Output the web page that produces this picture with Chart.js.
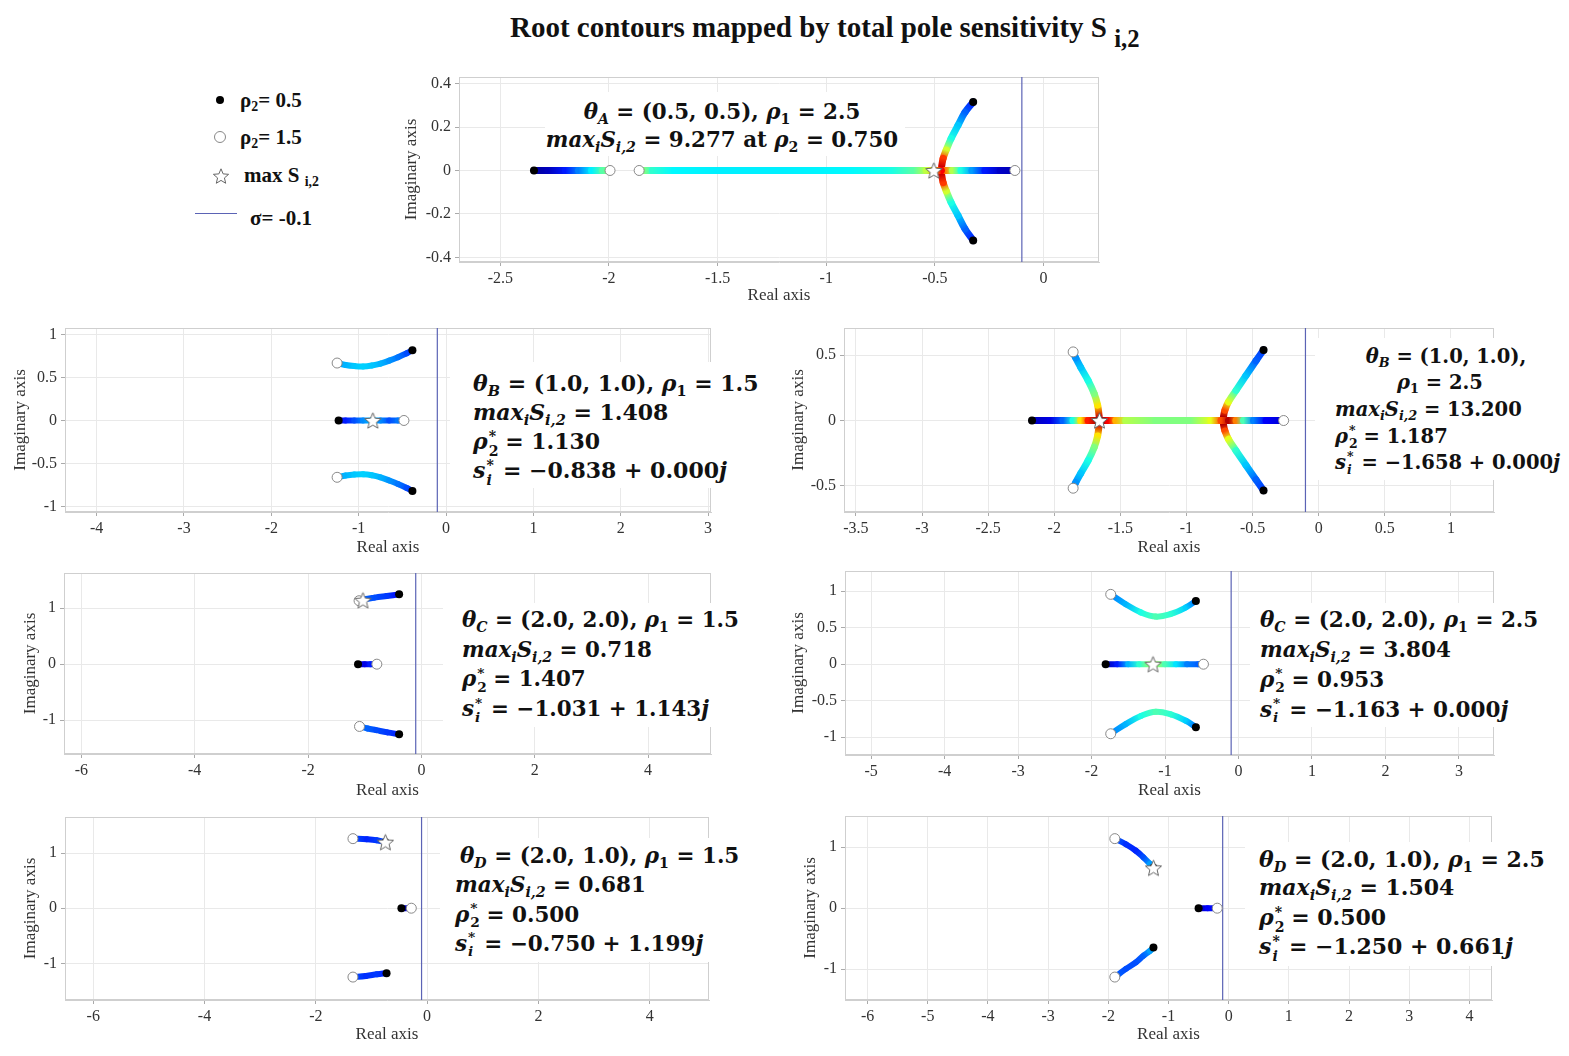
<!DOCTYPE html>
<html>
<head>
<meta charset="utf-8">
<script src="https://cdn.jsdelivr.net/npm/chart.js@4.4.1/dist/chart.umd.min.js"></script>
<style>
  body { margin: 0; background: #fff; width: 1569px; height: 1056px; position: relative; overflow: hidden; font-family: "Liberation Serif", serif; }
  canvas.p { position: absolute; }
  .t { position: absolute; white-space: nowrap; font-family: "DejaVu Serif", serif; font-weight: bold; line-height: 28px; height: 28px; color: #111; }
  .c { transform: translateX(-50%); }
  .bg { position: absolute; background: #fff; }
  i { font-style: italic; }
  sub { font-size: .66em; vertical-align: -.32em; line-height: 0; }
  .ss { display: inline-block; position: relative; width: .45em; height: 1em; }
  .ss span { position: absolute; left: 1px; font-size: .64em; line-height: 1; }
  .ss .u { top: 10%; }
  .ss .d { top: 76%; }
  .lg { position: absolute; font-weight: bold; font-size: 21px; line-height: 24px; color: #111; white-space: nowrap; }
  #title { position: absolute; left: 510px; top: 11px; font-weight: bold; font-size: 29px; color: #111; white-space: nowrap; }
</style>
</head>
<body>
<div id="title">Root contours mapped by total pole sensitivity S <sub style="font-size:.85em;vertical-align:-.42em">i,2</sub></div>

<!-- legend -->
<div style="position:absolute;left:216px;top:96px;width:8px;height:8px;border-radius:50%;background:#000"></div>
<div class="lg" style="left:240px;top:88px">ρ<sub>2</sub>= 0.5</div>
<div style="position:absolute;left:214px;top:131px;width:10px;height:10px;border-radius:50%;border:1px solid #888;background:#fff"></div>
<div class="lg" style="left:240px;top:125px">ρ<sub>2</sub>= 1.5</div>
<div id="lgstar" style="position:absolute;left:211px;top:166px"></div>
<div class="lg" style="left:244px;top:163px">max S <sub>i,2</sub></div>
<div style="position:absolute;left:195px;top:213px;width:42px;height:1px;background:#5b63b5"></div>
<div class="lg" style="left:250px;top:206px">σ= -0.1</div>

<script>
// ---- tick labels ----
const aXTicks = [-2.5, -2, -1.5, -1, -0.5, 0];
const aYTicks = [-0.4, -0.2, 0, 0.2, 0.4];
const b1XTicks = [-4, -3, -2, -1, 0, 1, 2, 3];
const b1YTicks = [-1, -0.5, 0, 0.5, 1];
const b2XTicks = [-3.5, -3, -2.5, -2, -1.5, -1, -0.5, 0, 0.5, 1];
const b2YTicks = [-0.5, 0, 0.5];
const c1XTicks = [-6, -4, -2, 0, 2, 4];
const c1YTicks = [-1, 0, 1];
const c2XTicks = [-5, -4, -3, -2, -1, 0, 1, 2, 3];
const c2YTicks = [-1, -0.5, 0, 0.5, 1];
const d1XTicks = [-6, -4, -2, 0, 2, 4];
const d1YTicks = [-1, 0, 1];
const d2XTicks = [-6, -5, -4, -3, -2, -1, 0, 1, 2, 3, 4];
const d2YTicks = [-1, 0, 1];

// ---- contours: [real, imag, sensitivity level 0..1] ----
const aLeft = [[-2.345,0,0.03],[-2.28,0,0.06],[-2.2,0,0.15],[-2.14,0,0.25],[-2.08,0,0.36],[-2.03,0,0.46],[-1.995,0,0.52]];
const aMid = [[-1.861,0,0.55],[-1.8,0,0.42],[-1.7,0,0.37],[-1.5,0,0.36],[-1.2,0,0.36],[-0.9,0,0.37],[-0.7,0,0.4],[-0.6,0,0.46],[-0.54,0,0.56],[-0.5,0,0.7],[-0.47,0,0.88]];
const aRight = [[-0.47,0,0.9],[-0.45,0,0.75],[-0.42,0,0.55],[-0.38,0,0.4],[-0.33,0,0.28],[-0.27,0,0.15],[-0.2,0,0.07],[-0.132,0,0.05]];
const aUp = [[-0.324,0.315,0.15],[-0.362,0.267,0.22],[-0.394,0.207,0.32],[-0.426,0.146,0.4],[-0.448,0.094,0.58],[-0.462,0.056,0.82],[-0.469,0.02,0.92]];
const aDown = [[-0.324,-0.322,0.15],[-0.362,-0.268,0.22],[-0.394,-0.207,0.32],[-0.426,-0.146,0.4],[-0.448,-0.094,0.58],[-0.462,-0.056,0.82],[-0.469,-0.02,0.92]];
const aDots = [[-2.345,0],[-0.324,0.315],[-0.324,-0.322]];
const aCircles = [[-1.995,0],[-1.861,0],[-0.132,0]];
const aStar = [-0.505, 0];

const b1Up = [[-1.247,0.667,0.28],[-1.15,0.645,0.3],[-1.05,0.632,0.32],[-0.95,0.627,0.33],[-0.85,0.638,0.32],[-0.75,0.66,0.3],[-0.65,0.695,0.27],[-0.55,0.735,0.24],[-0.45,0.78,0.2],[-0.385,0.815,0.16]];
const b1Real = [[-1.23,0,0.08],[-1.15,0,0.15],[-1.05,0,0.2],[-0.95,0,0.26],[-0.84,0,0.32],[-0.75,0,0.26],[-0.65,0,0.2],[-0.55,0,0.24],[-0.482,0,0.3]];
const b1Down = [[-1.247,-0.66,0.28],[-1.15,-0.64,0.3],[-1.05,-0.628,0.32],[-0.95,-0.625,0.33],[-0.85,-0.636,0.32],[-0.75,-0.66,0.3],[-0.65,-0.697,0.27],[-0.55,-0.738,0.24],[-0.45,-0.784,0.2],[-0.385,-0.819,0.16]];
const b1Dots = [[-1.23,0],[-0.385,0.815],[-0.385,-0.819]];
const b1Circles = [[-1.247,0.667],[-1.247,-0.66],[-0.482,0]];
const b1Star = [-0.838, 0];

const b2Real = [[-2.168,0,0.06],[-2.028,0,0.1],[-1.933,0,0.22],[-1.858,0,0.4],[-1.8,0,0.65],[-1.744,0,0.85],[-1.657,0,1.0],[-1.592,0,0.88],[-1.535,0,0.7],[-1.46,0,0.55],[-1.232,0,0.5],[-0.967,0,0.5],[-0.815,0,0.6],[-0.739,0,0.8],[-0.682,0,0.95],[-0.625,0,0.75],[-0.569,0,0.45],[-0.493,0,0.25],[-0.398,0,0.12],[-0.265,0,0.08]];
const b2LeftUp = [[-1.66,0.03,0.92],[-1.672,0.118,0.65],[-1.698,0.206,0.5],[-1.744,0.307,0.4],[-1.8,0.407,0.32],[-1.838,0.48,0.27],[-1.857,0.525,0.25]];
const b2LeftDown = [[-1.66,-0.03,0.92],[-1.672,-0.118,0.65],[-1.698,-0.206,0.5],[-1.744,-0.307,0.4],[-1.8,-0.405,0.32],[-1.838,-0.475,0.27],[-1.857,-0.518,0.25]];
const b2RightUp = [[-0.72,0.03,0.95],[-0.709,0.08,0.8],[-0.682,0.143,0.6],[-0.625,0.231,0.42],[-0.55,0.344,0.32],[-0.474,0.457,0.22],[-0.417,0.54,0.18]];
const b2RightDown = [[-0.72,-0.03,0.95],[-0.709,-0.08,0.8],[-0.682,-0.143,0.6],[-0.625,-0.231,0.42],[-0.55,-0.342,0.32],[-0.474,-0.453,0.22],[-0.417,-0.535,0.18]];
const b2Dots = [[-2.168,0],[-0.417,0.54],[-0.417,-0.535]];
const b2Circles = [[-1.857,0.525],[-1.857,-0.518],[-0.265,0]];
const b2Star = [-1.658, 0];

const c1Up = [[-0.393,1.249,0.12],[-0.611,1.22,0.18],[-0.83,1.19,0.2],[-1.004,1.161,0.22],[-1.09,1.135,0.2]];
const c1Real = [[-1.118,0,0.06],[-1.0,0,0.1],[-0.9,0,0.15],[-0.786,0,0.2]];
const c1Down = [[-1.092,-1.114,0.25],[-0.95,-1.15,0.22],[-0.8,-1.18,0.2],[-0.6,-1.22,0.18],[-0.393,-1.255,0.15]];
const c1Dots = [[-0.393,1.249],[-1.118,0],[-0.393,-1.255]];
const c1Circles = [[-1.1,1.135],[-0.786,0],[-1.092,-1.114]];
const c1Star = [-1.031, 1.143];

const c2Up = [[-1.739,0.957,0.25],[-1.535,0.822,0.3],[-1.33,0.71,0.4],[-1.125,0.652,0.45],[-0.921,0.688,0.42],[-0.716,0.778,0.33],[-0.58,0.867,0.22]];
const c2Real = [[-1.808,0,0.05],[-1.65,0,0.15],[-1.5,0,0.3],[-1.35,0,0.42],[-1.163,0,0.55],[-1.0,0,0.45],[-0.85,0,0.35],[-0.7,0,0.25],[-0.55,0,0.22],[-0.477,0,0.28]];
const c2Down = [[-1.739,-0.953,0.25],[-1.535,-0.82,0.3],[-1.33,-0.71,0.4],[-1.125,-0.652,0.45],[-0.921,-0.688,0.42],[-0.716,-0.775,0.33],[-0.58,-0.863,0.22]];
const c2Dots = [[-1.808,0],[-0.58,0.867],[-0.58,-0.863]];
const c2Circles = [[-1.739,0.957],[-1.739,-0.953],[-0.477,0]];
const c2Star = [-1.163, 0];

const d1Up = [[-1.333,1.262,0.2],[-1.084,1.25,0.16],[-0.907,1.232,0.18],[-0.75,1.199,0.2]];
const d1Real = [[-0.462,0,0.05],[-0.284,0,0.1]];
const d1Down = [[-1.333,-1.25,0.2],[-1.1,-1.23,0.17],[-0.9,-1.2,0.18],[-0.729,-1.179,0.15]];
const d1Dots = [[-0.75,1.199],[-0.462,0],[-0.729,-1.179]];
const d1Circles = [[-1.333,1.262],[-0.284,0],[-1.333,-1.25]];
const d1Star = [-0.75, 1.199];

const d2Up = [[-1.892,1.14,0.22],[-1.708,1.048,0.17],[-1.542,0.941,0.16],[-1.417,0.833,0.2],[-1.308,0.726,0.28],[-1.25,0.661,0.32]];
const d2Real = [[-0.5,0,0.05],[-0.35,0,0.12],[-0.19,0,0.15]];
const d2Down = [[-1.892,-1.129,0.22],[-1.708,-0.995,0.2],[-1.542,-0.887,0.2],[-1.417,-0.78,0.22],[-1.308,-0.7,0.28],[-1.25,-0.645,0.3]];
const d2Dots = [[-1.25,0.661],[-0.5,0],[-1.25,-0.645]];
const d2Circles = [[-1.892,1.14],[-0.19,0],[-1.892,-1.129]];
const d2Star = [-1.25, 0.661];

const sigma = -0.1;

// jet colormap
function jet(v) {
  const cl = x => Math.max(0, Math.min(1, x));
  v = cl(v);
  const r = cl(1.5 - Math.abs(4 * v - 3)), g = cl(1.5 - Math.abs(4 * v - 2)), b = cl(1.5 - Math.abs(4 * v - 1));
  return 'rgb(' + Math.round(r * 255) + ',' + Math.round(g * 255) + ',' + Math.round(b * 255) + ')';
}

function makeStar(r) {
  const c = document.createElement('canvas');
  const s = Math.ceil(r * 2 + 4);
  c.width = c.height = s;
  const x = c.getContext('2d');
  x.beginPath();
  for (let k = 0; k < 10; k++) {
    const a = -Math.PI / 2 + k * Math.PI / 5;
    const rr = k % 2 ? r * 0.45 : r;
    x.lineTo(s / 2 + rr * Math.cos(a), s / 2 + rr * Math.sin(a) + 0.8);
  }
  x.closePath();
  x.fillStyle = '#fff';
  x.fill();
  x.strokeStyle = '#666';
  x.lineWidth = 1;
  x.stroke();
  return c;
}
const starImg = makeStar(8.5);
document.getElementById('lgstar').appendChild(makeStar(8));

const boxPlugin = {
  id: 'box',
  beforeDatasetsDraw(chart) {
    const a = chart.chartArea, ctx = chart.ctx;
    ctx.save();
    ctx.strokeStyle = '#cfcfcf';
    ctx.lineWidth = 1;
    ctx.strokeRect(Math.round(a.left) + 0.5, Math.round(a.top) + 0.5, Math.round(a.width) - 1, Math.round(a.height) - 1);
    ctx.restore();
  }
};

function segColor(c, br) {
  const g = c.chart.ctx.createLinearGradient(c.p0.x, c.p0.y, c.p1.x, c.p1.y);
  g.addColorStop(0, jet(br[c.p0DataIndex][2]));
  g.addColorStop(1, jet(br[c.p1DataIndex][2]));
  return g;
}

function panel(g, xr, yr, xt, yt, branches, dots, circles, star, lw) {
  const left = g.yT - 10, top = g.t - 6, right = g.r + 6, bottom = g.xT + 10;
  const cv = document.createElement('canvas');
  cv.className = 'p';
  cv.width = right - left;
  cv.height = bottom - top;
  cv.style.left = left + 'px';
  cv.style.top = top + 'px';
  document.body.appendChild(cv);
  const yW = g.l - left, xH = bottom - g.b;
  const pts = a => a.map(p => ({x: p[0], y: p[1]}));

  const datasets = [
    {data: pts([star]), pointStyle: starImg, pointRadius: 8},
    {data: pts(circles), pointRadius: 5, pointBackgroundColor: '#fff', pointBorderColor: '#888', pointBorderWidth: 1},
    {data: pts(dots), pointRadius: 4, pointBackgroundColor: '#000', pointBorderColor: '#000', pointBorderWidth: 0}
  ];
  branches.forEach(br => {
    datasets.push({
      data: pts(br), showLine: true, pointRadius: 0, borderWidth: lw, tension: 0.4,
      borderCapStyle: 'round', borderJoinStyle: 'round', borderColor: jet(br[0][2]),
      segment: {
        borderColor: c => segColor(c, br),
        borderDashOffset: c => c.p0DataIndex * 0.001
      }
    });
  });
  datasets.push({data: [{x: sigma, y: yr[0]}, {x: sigma, y: yr[1]}], showLine: true, pointRadius: 0, borderColor: '#5b63b5', borderWidth: 1.2});

  const tickFont = {family: 'Liberation Serif', size: 16};
  const titleFont = {family: 'Liberation Serif', size: 17};
  new Chart(cv, {
    type: 'scatter',
    data: {datasets: datasets},
    options: {
      responsive: false,
      animation: false,
      events: [],
      layout: {padding: {top: 6, right: 6, left: 0, bottom: 0}},
      plugins: {legend: {display: false}, tooltip: {enabled: false}},
      scales: {
        x: {
          type: 'linear', min: xr[0], max: xr[1],
          afterBuildTicks: s => { s.ticks = xt.map(v => ({value: v})); },
          afterFit: s => { s.height = xH; s.paddingLeft = 0; s.paddingRight = 0; },
          grid: {color: '#e9e9e9', tickLength: 4, tickColor: '#aaa'},
          border: {color: '#cfcfcf'},
          ticks: {font: tickFont, color: '#333', padding: 3, maxRotation: 0, autoSkip: false, callback: v => String(v)},
          title: {display: true, text: 'Real axis', font: titleFont, color: '#333', padding: 0}
        },
        y: {
          type: 'linear', min: yr[0], max: yr[1],
          afterBuildTicks: s => { s.ticks = yt.map(v => ({value: v})); },
          afterFit: s => { s.width = yW; s.paddingTop = 0; s.paddingBottom = 0; },
          grid: {color: '#e9e9e9', tickLength: 4, tickColor: '#aaa'},
          border: {color: '#cfcfcf'},
          ticks: {font: tickFont, color: '#333', padding: 4, autoSkip: false, callback: v => String(v)},
          title: {display: true, text: 'Imaginary axis', font: titleFont, color: '#333', padding: 0}
        }
      }
    },
    plugins: [boxPlugin]
  });
}

panel({l: 459, t: 74, r: 1102, b: 262, yT: 411, xT: 296}, [-2.69, 0.255], [-0.421, 0.43], aXTicks, aYTicks,
  [aLeft, aMid, aRight, aUp, aDown], aDots, aCircles, aStar, 7);
panel({l: 65, t: 325, r: 714, b: 512, yT: 20, xT: 548}, [-4.362, 3.033], [-1.063, 1.074], b1XTicks, b1YTicks,
  [b1Up, b1Real, b1Down], b1Dots, b1Circles, b1Star, 6);
panel({l: 844, t: 325, r: 1497, b: 512, yT: 798, xT: 548}, [-3.59, 1.326], [-0.7, 0.708], b2XTicks, b2YTicks,
  [b2Real, b2LeftUp, b2LeftDown, b2RightUp, b2RightDown], b2Dots, b2Circles, b2Star, 7);
panel({l: 64, t: 570, r: 714, b: 754, yT: 30, xT: 791}, [-6.306, 5.11], [-1.607, 1.631], c1XTicks, c1YTicks,
  [c1Up, c1Real, c1Down], c1Dots, c1Circles, c1Star, 6);
panel({l: 845, t: 568, r: 1497, b: 755, yT: 798, xT: 791}, [-5.355, 3.477], [-1.244, 1.277], c2XTicks, c2YTicks,
  [c2Up, c2Real, c2Down], c2Dots, c2Circles, c2Star, 6);
panel({l: 65, t: 814, r: 712, b: 1000, yT: 30, xT: 1035}, [-6.507, 5.065], [-1.666, 1.655], d1XTicks, d1YTicks,
  [d1Up, d1Real, d1Down], d1Dots, d1Circles, d1Star, 6);
panel({l: 845, t: 813, r: 1495, b: 1000, yT: 810, xT: 1035}, [-6.375, 4.375], [-1.505, 1.511], d2XTicks, d2YTicks,
  [d2Up, d2Real, d2Down], d2Dots, d2Circles, d2Star, 6);

// ---- annotations ----
const S = '<span class="ss"><span class="u">*</span><span class="d">2</span></span>';
const Si = '<span class="ss"><span class="u">*</span><span class="d"><i>i</i></span></span>';
const maxS = '<i>max<sub>i</sub>S<sub>i,2</sub></i>';
const notes = [
  {fs: 21.4, bg: [545, 92, 360, 64], lines: [
    [722, 112, '<i>θ<sub>A</sub></i> = (0.5, 0.5), <i>ρ</i><sub>1</sub> = 2.5', true],
    [722, 140, maxS + ' = 9.277 at <i>ρ</i><sub>2</sub> = 0.750', true]]},
  {fs: 22, bg: [450, 362, 330, 126], lines: [
    [473, 383, '<i>θ<sub>B</sub></i> = (1.0, 1.0), <i>ρ</i><sub>1</sub> = 1.5'],
    [473, 412, maxS + ' = 1.408'],
    [473, 441, '<i>ρ</i>' + S + ' = 1.130'],
    [473, 470, '<i>s</i>' + Si + ' = −0.838 + 0.000<i>j</i>']]},
  {fs: 19.5, bg: [1315, 338, 254, 142], lines: [
    [1446, 357, '<i>θ<sub>B</sub></i> = (1.0, 1.0),', true],
    [1440, 383, '<i>ρ</i><sub>1</sub> = 2.5', true],
    [1335, 410, maxS + ' = 13.200'],
    [1335, 437, '<i>ρ</i>' + S + ' = 1.187'],
    [1335, 463, '<i>s</i>' + Si + ' = −1.658 + 0.000<i>j</i>']]},
  {fs: 21.4, bg: [443, 603, 310, 124], lines: [
    [462, 620, '<i>θ<sub>C</sub></i> = (2.0, 2.0), <i>ρ</i><sub>1</sub> = 1.5'],
    [462, 650, maxS + ' = 0.718'],
    [462, 679, '<i>ρ</i>' + S + ' = 1.407'],
    [462, 709, '<i>s</i>' + Si + ' = −1.031 + 1.143<i>j</i>']]},
  {fs: 21.5, bg: [1250, 603, 300, 124], lines: [
    [1260, 620, '<i>θ<sub>C</sub></i> = (2.0, 2.0), <i>ρ</i><sub>1</sub> = 2.5'],
    [1260, 650, maxS + ' = 3.804'],
    [1260, 679, '<i>ρ</i>' + S + ' = 0.953'],
    [1260, 709, '<i>s</i>' + Si + ' = −1.163 + 0.000<i>j</i>']]},
  {fs: 21.5, bg: [440, 838, 300, 124], lines: [
    [460, 856, '<i>θ<sub>D</sub></i> = (2.0, 1.0), <i>ρ</i><sub>1</sub> = 1.5'],
    [455, 885, maxS + ' = 0.681'],
    [455, 914, '<i>ρ</i>' + S + ' = 0.500'],
    [455, 943, '<i>s</i>' + Si + ' = −0.750 + 1.199<i>j</i>']]},
  {fs: 22, bg: [1245, 842, 310, 124], lines: [
    [1259, 859, '<i>θ<sub>D</sub></i> = (2.0, 1.0), <i>ρ</i><sub>1</sub> = 2.5'],
    [1259, 887, maxS + ' = 1.504'],
    [1259, 917, '<i>ρ</i>' + S + ' = 0.500'],
    [1259, 946, '<i>s</i>' + Si + ' = −1.250 + 0.661<i>j</i>']]}
];
notes.forEach(n => {
  const b = document.createElement('div');
  b.className = 'bg';
  b.style.left = n.bg[0] + 'px'; b.style.top = n.bg[1] + 'px';
  b.style.width = n.bg[2] + 'px'; b.style.height = n.bg[3] + 'px';
  document.body.appendChild(b);
  n.lines.forEach(l => {
    const d = document.createElement('div');
    d.className = 't' + (l[3] ? ' c' : '');
    d.style.left = l[0] + 'px';
    d.style.top = (l[1] - 14) + 'px';
    d.style.fontSize = n.fs + 'px';
    d.innerHTML = l[2];
    document.body.appendChild(d);
  });
});
</script>
</body>
</html>
